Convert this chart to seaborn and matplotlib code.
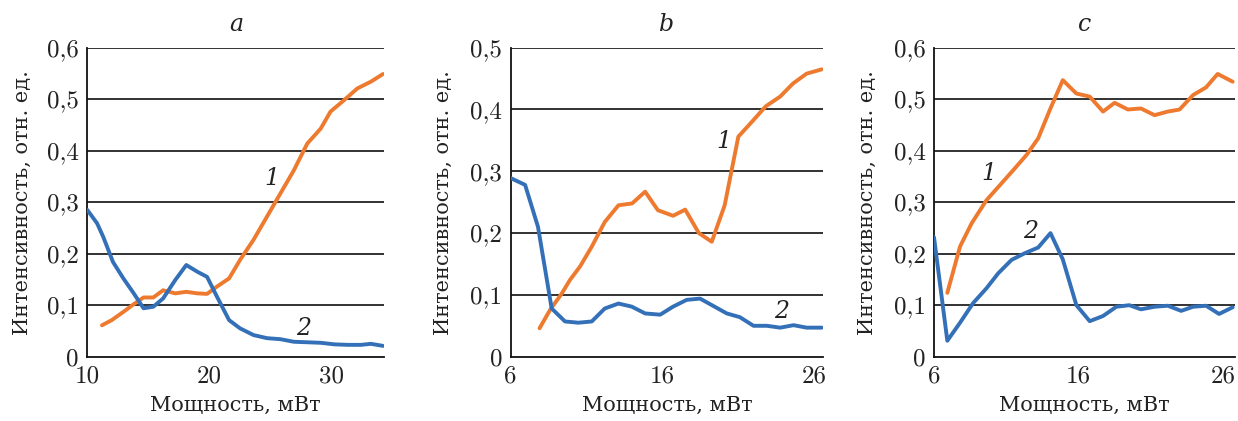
import matplotlib
matplotlib.use("Agg")
import matplotlib.pyplot as plt
import seaborn as sns
import pandas as pd
from matplotlib.ticker import FixedLocator, FixedFormatter

# ---- data ----
a1_x = [11.2, 12.0, 12.95, 13.8, 14.6, 15.4, 16.2, 17.2, 18.1, 19.0, 19.8, 20.6, 21.6, 22.5,
        23.6, 24.7, 25.8, 26.9, 28.0, 29.1, 29.9, 31.0, 32.1, 33.2, 34.2]
a1_y = [0.061, 0.071, 0.087, 0.102, 0.115, 0.115, 0.129, 0.123, 0.126, 0.123, 0.122, 0.136, 0.152,
        0.188, 0.227, 0.272, 0.317, 0.362, 0.414, 0.443, 0.476, 0.498, 0.521, 0.534, 0.549]
a2_x = [10.0, 10.8, 11.3, 12.1, 12.95, 13.8, 14.6, 15.4, 16.2, 17.2, 18.1, 19.0, 19.8, 20.6,
        21.6, 22.5, 23.6, 24.7, 25.8, 26.9, 28.0, 29.1, 30.2, 31.3, 32.4, 33.2, 34.2]
a2_y = [0.285, 0.259, 0.233, 0.184, 0.152, 0.123, 0.094, 0.097, 0.113, 0.149, 0.178, 0.165, 0.155,
        0.117, 0.071, 0.055, 0.042, 0.036, 0.034, 0.029, 0.028, 0.027, 0.024, 0.023, 0.023, 0.025, 0.021]

b1_x = [7.9, 8.6, 9.36, 9.9, 10.57, 11.34, 12.2, 13.1, 14.0, 14.86, 15.7, 16.7, 17.5, 18.4,
        19.25, 20.1, 21.0, 22.0, 22.8, 23.76, 24.6, 25.5, 26.5]
b1_y = [0.046, 0.076, 0.102, 0.124, 0.146, 0.178, 0.218, 0.245, 0.248, 0.267, 0.237, 0.228, 0.238,
        0.200, 0.186, 0.245, 0.356, 0.383, 0.405, 0.421, 0.442, 0.458, 0.465]
b2_x = [6.0, 6.95, 7.8, 8.7, 9.58, 10.46, 11.34, 12.2, 13.1, 13.98, 14.86, 15.85, 16.7, 17.6,
        18.48, 19.36, 20.24, 21.1, 22.0, 22.88, 23.76, 24.64, 25.5, 26.5]
b2_y = [0.289, 0.278, 0.210, 0.078, 0.057, 0.055, 0.057, 0.078, 0.086, 0.081, 0.070, 0.068, 0.081,
        0.092, 0.094, 0.082, 0.070, 0.064, 0.050, 0.050, 0.047, 0.051, 0.047, 0.047]

c1_x = [6.92, 7.8, 8.6, 9.63, 10.55, 11.47, 12.4, 13.2, 14.0, 14.9, 15.84, 16.76, 17.68, 18.48,
        19.4, 20.3, 21.24, 22.16, 22.97, 23.9, 24.8, 25.6, 26.64]
c1_y = [0.124, 0.214, 0.259, 0.304, 0.333, 0.362, 0.392, 0.424, 0.479, 0.537, 0.511, 0.505, 0.476,
        0.493, 0.480, 0.482, 0.469, 0.476, 0.480, 0.508, 0.523, 0.549, 0.534]
c2_x = [6.0, 6.92, 7.8, 8.7, 9.63, 10.44, 11.36, 12.28, 13.2, 14.05, 14.9, 15.84, 16.76, 17.68,
        18.6, 19.5, 20.3, 21.24, 22.16, 23.08, 23.9, 24.8, 25.7, 26.64]
c2_y = [0.232, 0.031, 0.066, 0.104, 0.133, 0.162, 0.188, 0.201, 0.212, 0.240, 0.189, 0.100, 0.069,
        0.079, 0.097, 0.100, 0.092, 0.097, 0.099, 0.089, 0.097, 0.099, 0.083, 0.096]

panel_titles = ["a", "b", "c"]
xticks = [[10, 20, 30], [6, 16, 26], [6, 16, 26]]
xlims = [(10, 34.3), (6, 26.6), (6, 26.8)]
ylims = [0.6, 0.5, 0.6]
curve_labels = ["1", "2"]
label_pos = [[(25.1, 0.346), (27.7, 0.055)],
             [(20.07, 0.348), (23.87, 0.073)],
             [(9.8, 0.356), (12.7, 0.243)]]
xlabel = "Мощность, мВт"
ylabel = "Интенсивность, отн. ед."

series = [((a1_x, a1_y), (a2_x, a2_y)),
          ((b1_x, b1_y), (b2_x, b2_y)),
          ((c1_x, c1_y), (c2_x, c2_y))]

ORANGE = "#EE7A30"
BLUE = "#3470B8"

sns.set_theme(style="white")
plt.rcParams["font.family"] = ["cmr10", "DejaVu Serif"]
plt.rcParams["axes.formatter.use_mathtext"] = False

fig = plt.figure(figsize=(12.38, 4.21), dpi=100)
W, H = 1238, 421
boxes = [(87.3, 384.3), (510.7, 823.3), (934.0, 1235.0)]
top_px, bot_px = 47.7, 356.7
ylabel_x = [22, 443, 867]

for i, ((l, r), ((x1, y1), (x2, y2))) in enumerate(zip(boxes, series)):
    ax = fig.add_axes([l / W, 1 - bot_px / H, (r - l) / W, (bot_px - top_px) / H])
    d1 = pd.DataFrame({"x": x1, "y": y1})
    d2 = pd.DataFrame({"x": x2, "y": y2})
    ymax = ylims[i]
    yt = [round(k * 0.1, 1) for k in range(int(round(ymax * 10)) + 1)]
    for v in yt[1:]:
        ax.axhline(v, color="#222222", lw=1.3, zorder=1)
    sns.lineplot(data=d1, x="x", y="y", ax=ax, color=ORANGE, lw=2.8, zorder=3, sort=False)
    sns.lineplot(data=d2, x="x", y="y", ax=ax, color=BLUE, lw=2.8, zorder=3, sort=False)
    ax.set_xlim(*xlims[i])
    ax.set_ylim(0, ymax)
    ax.set_xticks(xticks[i])
    ax.set_xticklabels([str(t) for t in xticks[i]])
    ax.set_yticks(yt)
    ax.set_yticklabels(["0" if v == 0 else f"{v:.1f}".replace(".", ",") for v in yt])
    ax.tick_params(axis="both", length=0, labelsize=18, colors="#222222")
    ax.tick_params(axis="x", pad=6)
    ax.tick_params(axis="y", pad=6)
    for s in ["top", "right"]:
        ax.spines[s].set_visible(False)
    for s in ["left", "bottom"]:
        ax.spines[s].set_color("#111111")
        ax.spines[s].set_linewidth(1.3)
    ax.set_xlabel(xlabel, fontsize=15, family=["DejaVu Serif"], color="#222222", labelpad=6)
    ax.set_ylabel("")
    fig.text(ylabel_x[i] / W, 1 - (bot_px + top_px) / 2 / H, ylabel, rotation=90,
             ha="center", va="center", fontsize=15, family=["DejaVu Serif"], color="#222222")
    ax.set_title(panel_titles[i], fontsize=17, family=["DejaVu Serif"], style="italic",
                 color="#222222", pad=12)
    for lbl, (tx, ty) in zip(curve_labels, label_pos[i]):
        ax.text(tx, ty, lbl, fontsize=17, family=["DejaVu Serif"], style="italic",
                ha="center", va="center", color="#222222")

fig.savefig("out.png", dpi=100)
